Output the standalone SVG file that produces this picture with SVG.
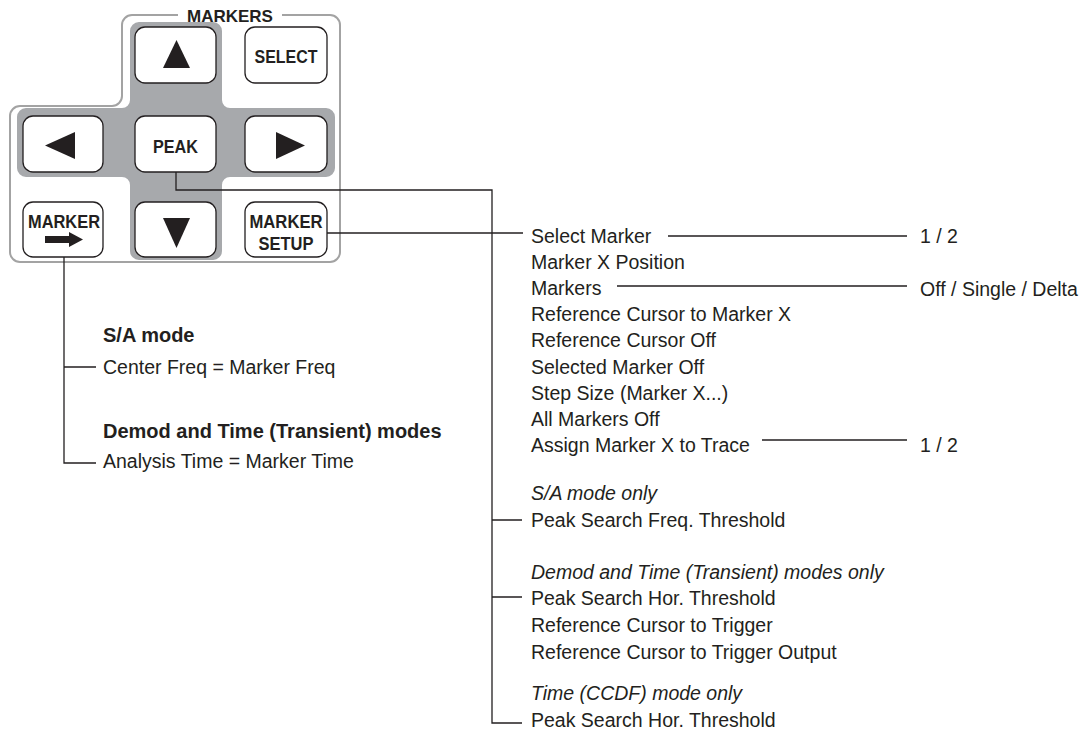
<svg xmlns="http://www.w3.org/2000/svg" width="1082" height="742" viewBox="0 0 1082 742">
<style>
.t{font-family:"Liberation Sans",Arial,sans-serif;font-size:19.5px;fill:#231f20}
.b{font-weight:bold;font-size:20px}
.i{font-style:italic}
.k{font-family:"Liberation Sans",Arial,sans-serif;font-weight:bold;fill:#231f20;text-anchor:middle}
.btn{fill:#fff;stroke:#231f20;stroke-width:1.3}
.c{fill:none;stroke:#231f20;stroke-width:1.3}
.g{fill:#231f20}
</style>
<rect width="1082" height="742" fill="#fff"/>
<g id="panel">
<path d="M282,15 H330 A10 10 0 0 1 340,25 V252 A10 10 0 0 1 330,262 H20 A10 10 0 0 1 10,252 V116 A10 10 0 0 1 20,106 H112 A10 10 0 0 0 122,96 V25 A10 10 0 0 1 132,15 H178" fill="none" stroke="#a3a3a3" stroke-width="2"/>
<text class="k" x="230" y="22" font-size="17">MARKERS</text>
<path d="M139,22 H213 A9 9 0 0 1 222,31 V100 A8 8 0 0 0 230,108 H326 A9 9 0 0 1 335,117 V168 A9 9 0 0 1 326,177 H230 A8 8 0 0 0 222,185 V251 A9 9 0 0 1 213,260 H139 A9 9 0 0 1 130,251 V185 A8 8 0 0 0 122,177 H26 A9 9 0 0 1 17,168 V117 A9 9 0 0 1 26,108 H122 A8 8 0 0 0 130,100 V31 A9 9 0 0 1 139,22 Z" fill="#a7a9ac"/>
</g>
<g id="btn-up"><rect class="btn" x="135" y="27" width="81" height="56" rx="10"/><polygon class="g" points="176.5,40 190,68 163,68"/></g>
<g id="btn-select"><rect class="btn" x="245" y="27" width="82" height="56" rx="10"/><text class="k" x="286" y="63" font-size="18" textLength="63" lengthAdjust="spacingAndGlyphs">SELECT</text></g>
<g id="btn-left"><rect class="btn" x="23" y="116" width="80" height="56" rx="10"/><polygon class="g" points="45,145.5 75,132 75,159"/></g>
<g id="btn-peak"><rect class="btn" x="135" y="116" width="81" height="56" rx="10"/><text class="k" x="175.5" y="153" font-size="18" textLength="45" lengthAdjust="spacingAndGlyphs">PEAK</text></g>
<g id="btn-right"><rect class="btn" x="245" y="116" width="82" height="56" rx="10"/><polygon class="g" points="305,145.5 276,132 276,159"/></g>
<g id="btn-marker"><rect class="btn" x="23" y="202" width="80" height="55" rx="10"/><text class="k" x="64" y="228" font-size="19" textLength="72" lengthAdjust="spacingAndGlyphs">MARKER</text><polygon class="g" points="45,236 69,236 69,232 83,239.5 69,247 69,243 45,243"/></g>
<g id="btn-down"><rect class="btn" x="135" y="202" width="81" height="55" rx="10"/><polygon class="g" points="176.5,248 190,218 163,218"/></g>
<g id="btn-setup"><rect class="btn" x="245" y="202" width="82" height="55" rx="10"/><text class="k" x="286" y="228" font-size="19" textLength="73" lengthAdjust="spacingAndGlyphs">MARKER</text><text class="k" x="286" y="250" font-size="19" textLength="55" lengthAdjust="spacingAndGlyphs">SETUP</text></g>
<g id="connectors">
<path class="c" d="M176,172 V190 H492 V723 H522"/>
<path class="c" d="M492,520 H522 M492,597 H522"/>
<path class="c" d="M327,233 H523"/>
<path class="c" d="M64,257 V463 H96 M64,367 H96"/>
<path class="c" d="M668,236 H907 M617,286 H907 M762,440 H907"/>
</g>
<g id="marker-menu">
<text class="t b" x="103" y="342">S/A mode</text>
<text class="t" x="103" y="374">Center Freq = Marker Freq</text>
<text class="t b" x="103" y="438">Demod and Time (Transient) modes</text>
<text class="t" x="103" y="468">Analysis Time = Marker Time</text>
</g>
<g id="setup-menu">
<text class="t" x="531" y="243">Select Marker</text>
<text class="t" x="531" y="269">Marker X Position</text>
<text class="t" x="531" y="295">Markers</text>
<text class="t" x="531" y="321">Reference Cursor to Marker X</text>
<text class="t" x="531" y="347">Reference Cursor Off</text>
<text class="t" x="531" y="374">Selected Marker Off</text>
<text class="t" x="531" y="400">Step Size (Marker X...)</text>
<text class="t" x="531" y="426">All Markers Off</text>
<text class="t" x="531" y="452">Assign Marker X to Trace</text>
<text class="t i" x="531" y="500">S/A mode only</text>
<text class="t" x="531" y="527">Peak Search Freq. Threshold</text>
<text class="t i" x="531" y="579">Demod and Time (Transient) modes only</text>
<text class="t" x="531" y="605">Peak Search Hor. Threshold</text>
<text class="t" x="531" y="632">Reference Cursor to Trigger</text>
<text class="t" x="531" y="659">Reference Cursor to Trigger Output</text>
<text class="t i" x="531" y="700">Time (CCDF) mode only</text>
<text class="t" x="531" y="727">Peak Search Hor. Threshold</text>
</g>
<g id="values">
<text class="t" x="920" y="243">1 / 2</text>
<text class="t" x="920" y="296">Off / Single / Delta</text>
<text class="t" x="920" y="452">1 / 2</text>
</g>
</svg>
